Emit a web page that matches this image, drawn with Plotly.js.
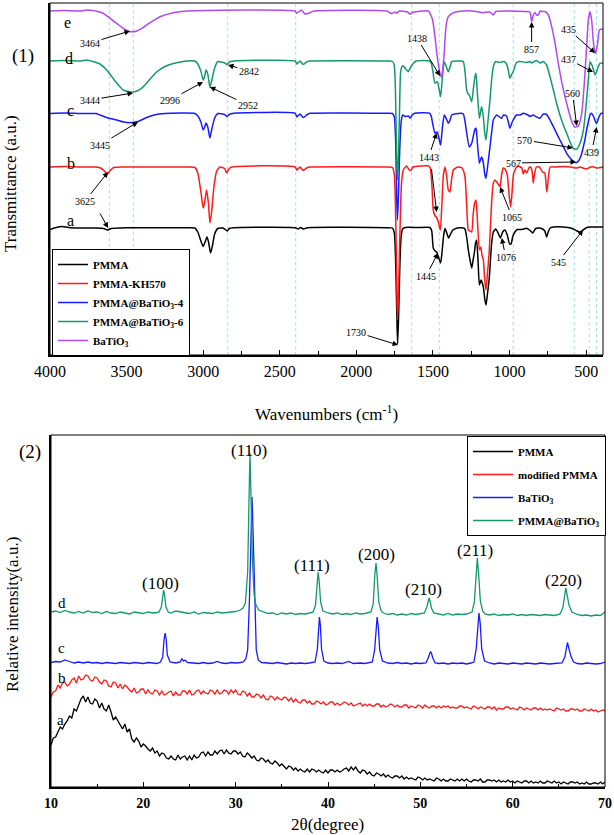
<!DOCTYPE html>
<html><head><meta charset="utf-8">
<script src="https://cdn.plot.ly/plotly-3.0.1.min.js"></script>
<style>body{margin:0;background:#fff}</style></head>
<body><div id="c" style="width:614px;height:835px"></div>
<script>
// ---------- FTIR spectra: [wavenumber, transmittance (a.u.)] ----------
const irA = [[4000,125.5],[3960,127.5],[3920,128.5],[3880,127.5],[3800,127],[3700,127],[3650,126.5],[3625,125],[3600,126.5],[3500,127.3],[3300,127.3],[3100,127.3],[3054,127],[3035,123],[3015,114],[3000,108.5],[2985,114],[2975,118],[2965,113],[2952,102],[2940,109],[2925,121],[2905,126.5],[2870,127],[2852,125],[2842,124],[2830,126.5],[2800,127.3],[2400,127.3],[2380,126],[2365,127.5],[2345,126],[2320,127.3],[1800,127.3],[1765,127],[1752,122],[1743,90],[1736,40],[1731,11],[1725,35],[1717,85],[1708,118],[1698,126],[1680,127.5],[1600,127.5],[1520,127.5],[1508,124],[1498,107],[1486,104],[1476,103],[1462,97],[1450,92],[1440,104],[1430,120],[1421,126.5],[1410,122],[1398,117],[1388,120],[1370,125],[1340,127],[1300,127],[1291,126],[1280,118],[1269,105],[1258,95],[1247,87],[1238,95],[1230,102],[1222,112],[1215,115],[1205,92],[1197,70],[1186,75],[1171,68],[1162,56],[1154,50],[1145,60],[1132,78],[1118,110],[1106,123],[1090,126],[1075,122],[1060,117],[1045,123],[1030,125],[1015,120],[1000,111],[990,111],[980,118],[965,123],[950,125.5],[920,125.5],[890,126.7],[870,125],[848,122],[830,126.5],[805,127],[785,126],[770,124],[758,118],[748,123],[735,127],[715,128],[650,128],[600,127],[560,124],[540,123],[520,125],[495,127.5],[475,128],[440,128],[390,128]];
const irB = [[4000,188],[3900,188.5],[3800,188],[3700,188],[3670,187],[3645,184],[3625,181],[3610,184],[3585,187.5],[3500,188],[3100,188],[3054,187.5],[3035,182],[3015,163],[3000,147],[2990,153],[2978,165],[2966,152],[2956,132],[2945,143],[2930,168],[2912,184],[2890,188],[2860,186.5],[2847,182],[2835,185.5],[2815,188],[2400,188],[2388,185],[2368,188],[2347,184.5],[2320,187.5],[2303,188],[1800,188],[1765,187.5],[1752,180],[1743,135],[1736,70],[1732,35],[1725,60],[1716,120],[1706,170],[1694,185],[1672,189],[1655,185],[1645,184.5],[1630,188],[1530,189],[1518,187],[1507,170],[1498,145],[1486,139],[1478,138],[1465,133],[1452,125],[1442,150],[1432,180],[1421,188],[1410,178],[1400,165],[1389,163],[1378,176],[1367,185],[1340,188],[1310,187],[1291,178],[1280,150],[1269,125],[1258,124],[1247,123],[1238,140],[1228,152],[1219,155],[1210,135],[1197,105],[1188,108],[1180,100],[1171,95],[1162,75],[1154,65],[1145,80],[1132,105],[1118,150],[1106,172],[1094,175],[1084,173],[1070,170],[1062,168],[1052,180],[1041,187],[1030,186],[1015,180],[1003,160],[993,148],[985,160],[975,180],[965,185],[945,189],[920,187],[911,181],[900,185],[888,182],[870,188],[858,187],[850,180],[845,172],[838,180],[825,188],[805,188],[785,183],[770,182],[760,168],[756,163],[748,175],[735,188],[700,188],[650,188.5],[600,188],[560,187],[540,188],[500,186],[470,188],[450,188],[430,187],[390,188]];
const irC = [[4000,241.5],[3900,242],[3800,241.5],[3700,241.5],[3674,240],[3620,237],[3565,235],[3520,233],[3478,232.3],[3440,233],[3410,234.5],[3369,237.5],[3320,240],[3250,241.5],[3054,241.5],[3035,239],[3015,233],[3000,225],[2990,228],[2982,232],[2970,228],[2956,217],[2945,225],[2925,237],[2905,241.5],[2860,240.5],[2845,238.3],[2830,240.5],[2800,241.7],[2400,241.7],[2388,238],[2368,241],[2347,237.5],[2320,240.5],[2303,241.7],[1800,241.7],[1765,241.5],[1752,238],[1743,210],[1737,160],[1732,135],[1726,155],[1717,205],[1707,234],[1697,240],[1680,238.5],[1660,239],[1650,236.7],[1635,240],[1620,241.7],[1520,241.7],[1510,238],[1500,230],[1487,222],[1472,223],[1460,216],[1450,210],[1438,228],[1426,240],[1412,236],[1400,231.7],[1388,235],[1378,240],[1320,241.7],[1302,241],[1290,233],[1280,222],[1263,208],[1247,211.7],[1235,220],[1225,226],[1219,226.7],[1210,212],[1197,191.7],[1188,196],[1182,198],[1171,192],[1162,181],[1154,176.7],[1142,190],[1128,208],[1115,225],[1106,235],[1084,240],[1065,238],[1052,236.7],[1040,240],[1020,239],[1008,233],[998,226.7],[985,232],[976,235],[955,240],[932,240],[910,241.7],[880,240],[867,238.5],[845,240],[823,238],[802,236.7],[780,241],[758,240.5],[747,238],[736,235],[714,228.3],[693,221.7],[671,215],[649,208.3],[627,201.7],[605,197],[585,194],[566,192.3],[550,194],[540,196.7],[528,202],[518,208.3],[507,216],[497,225],[486,233],[475,240],[465,241.7],[455,239.5],[447,236.7],[438,233],[431,231.7],[423,235],[416,238.3],[403,241.7],[390,241.7]];
const irD = [[4000,294],[3900,294.5],[3800,294],[3760,295],[3720,293.5],[3674,291],[3630,285],[3600,279],[3565,272],[3522,265],[3490,263.5],[3456,263],[3425,264.5],[3400,267],[3369,272],[3335,278],[3304,283],[3250,288.5],[3195,291.5],[3108,294],[3054,294],[3035,291],[3015,284],[3000,275],[2990,279],[2982,285],[2970,281],[2956,267.5],[2945,274],[2925,287],[2905,293.5],[2860,292],[2845,290.5],[2830,293],[2800,294],[2400,294],[2388,291],[2368,294],[2347,290.5],[2320,293.5],[2303,294],[1800,294],[1765,293.5],[1753,290],[1745,265],[1738,205],[1732,175],[1726,195],[1718,245],[1711,283],[1700,289],[1689,288.3],[1675,285.5],[1661,283.3],[1645,288],[1628,291.7],[1610,294],[1520,294],[1510,291],[1502,285],[1487,271.7],[1472,273.3],[1460,266],[1450,258.3],[1438,278],[1426,293.3],[1412,288],[1400,283.3],[1388,288],[1378,293.3],[1320,294],[1302,293.5],[1290,282],[1280,265],[1270,261],[1263,260],[1247,253.3],[1235,268],[1225,279],[1219,281.7],[1210,262],[1197,236.7],[1188,244],[1182,248.3],[1171,238],[1162,222],[1154,215],[1142,232],[1128,255],[1115,278],[1106,288.3],[1090,293.5],[1070,292.5],[1052,293],[1035,293.5],[1020,291],[1008,285],[998,276.7],[985,281],[976,283.3],[955,292.5],[932,293.5],[910,293],[888,292.5],[867,293.5],[856,292],[845,293],[823,294.5],[802,292],[780,293.5],[758,290],[736,278.3],[714,265],[693,251.7],[671,240],[649,230],[627,221.7],[606,213.3],[584,206.7],[562,205.7],[540,211.7],[518,225],[501,248.3],[486,275],[475,293.3],[460,289],[450,284],[442,280],[433,283],[425,286.7],[410,291.7],[390,292]];
const irE = [[4000,344],[3900,344.5],[3800,344],[3760,345],[3720,344.5],[3690,343.5],[3652,341.7],[3608,336.7],[3565,331.7],[3522,326.7],[3478,323.3],[3434,324],[3391,327.7],[3347,332.3],[3282,338.3],[3195,342.3],[3108,344],[2400,344],[2390,341.7],[2358,345],[2336,341],[2303,342.3],[2280,344],[1800,344],[1780,342],[1765,341.5],[1750,343],[1737,342],[1720,344],[1665,343],[1650,340.7],[1635,342.5],[1600,343.5],[1530,344],[1519,341.7],[1502,335],[1487,318.3],[1472,298.3],[1454,281.7],[1443,277.7],[1435,288],[1428,298.3],[1415,328.3],[1400,338.3],[1367,342.3],[1300,344],[1240,344],[1171,342.3],[1130,343],[1106,340],[1090,343.5],[1000,344],[900,343.5],[867,343],[856,333.3],[845,340],[834,342.5],[823,340],[812,340],[801,344],[790,343.5],[769,343.5],[747,340],[736,335],[725,328.3],[703,311.7],[682,291.7],[660,273.3],[638,258.3],[616,245],[594,233.3],[573,227.7],[551,229],[529,241.7],[512,271.7],[497,308.3],[486,335],[475,343.3],[464,335],[454,315],[445,305],[438,301.7],[425,311.7],[414,325],[403,325.7],[390,326]];
const irNames = ['PMMA','PMMA-KH570','PMMA@BaTiO<sub>3</sub>-4','PMMA@BaTiO<sub>3</sub>-6','BaTiO<sub>3</sub>'];
const irLetters = ['a','b','c','d','e'];
const guideWn = [3613,3456,2840,2396,1639,1459,976,578,480,432];
// peak labels: [wavenumber, transmittance, text]
const irPeaks = [[3478,324,'3464'],[3458,262,'3444'],[3426,233,'3445'],[3621,183,'3625'],[3001,273,'2996'],[2956,268,'2952'],[2838,290,'2842'],[1454,279,'1438'],[856,333,'857'],[442,302,'435'],[455,283,'437'],[562,229,'560'],[586,207,'570'],[566,193,'567'],[431,228,'439'],[1476,222,'1443'],[1062,168,'1065'],[1051,117,'1076'],[1467,102,'1445'],[1728,10,'1730'],[520,125,'545'],[3621,127,''],[1476,143,'']];

// ---------- XRD patterns (a, b sampled every 0.25 degree from 10) ----------
const xrdA = [42,49,50,56, 60,58,63,66, 71,69,78,76, 82,88,91,85, 90,84,83,88, 86,79,84,78, 76,82,75,67, 70,66,62,58, 63,55,58,48, 45,49,46,40, 43,41,38,36, 39,34,36,31, 34,33,29,28, 31,28,27,32, 28,30,31,27, 31,27,32,29, 30,34,35,31, 35,32,32,36, 33,36,37,33, 37,34,33,36, 36,33,35,31, 30,34,32,29, 31,27,26,29, 28,25,27,24, 23,26,24,21, 23,20,18,21, 20,17,19,16, 18,16,15,18, 15,18,17,15, 17,15,14,17, 14,17,17,15, 17,15,16,18, 19,16,20,17, 20,16,14,17, 16,13,15,12, 11,14,13,11, 13,10,12,10, 9,11,11,9, 11,8,10,8, 9,8,7,10, 9,7,9,7, 8,7,6,9, 8,6,8,6, 6,8,7,6, 8,6,8,6, 8,6,5,7, 7,6,8,5, 5,7,7,6, 7,5,7,5, 6,5,7,5, 6,4,6,5, 4,6,6,4, 6,4,5,4, 6,4,4,6, 5,4,6,4, 5,3,5,4, 3,5,5,4, 5,3,4,3, 5,3,3,4, 4,3,5,3, 5];
const xrdB = [90,95,96,102, 99,104,105,101, 103,107,109,104, 111,107,108,112, 111,107,106,110, 109,105,103,107, 106,101,100,105, 104,99,103,98, 102,100,97,95, 99,94,95,98, 98,93,97,94, 93,97,96,92, 96,92,93,95, 96,91,95,92, 92,96,96,93, 97,92,93,96, 97,93,96,94, 93,97,96,93, 97,93,94,97, 96,93,97,94, 97,93,92,96, 95,91,94,90, 90,93,92,89, 92,88,87,91, 90,87,90,88, 87,90,89,86, 89,85,88,85, 84,87,87,84, 86,83,83,86, 85,83,85,82, 83,85,85,82, 84,82,83,85, 84,82,84,81, 82,83,84,81, 83,81,83,81, 81,83,83,80, 82,80,81,83, 82,80,82,80, 80,82,82,79, 81,80,79,82, 81,79,82,80, 79,81,81,79, 81,79,81,80, 81,79,80,79, 79,81,81,79, 80,79,78,81, 80,78,80,79, 78,80,80,78, 80,77,79,78, 78,80,80,78, 79,78,77,80, 79,77,79,78, 77,79,79,77, 79,77,78,77, 78,77,76,79, 78,77,78,76, 76,78,78,77, 78,76,76,78, 77,76,78,76, 77,75,76,77, 76];
const xrdCx = [10,10.5,11,11.5,12,12.5,13,13.5,14,14.5,15,15.5,16,16.5,17,17.5,18,18.5,19,19.5,20,20.5,21,21.5, 21.85,22.1,22.25,22.36,22.47,22.6,22.9, 23.5,24.0,24.17,24.35,24.5,24.8, 25.5,26,26.5,27,27.5,28,28.5,29,29.5,30,30.5, 30.8,31.1,31.3,31.5,31.65,31.77,31.9,32.05,32.23,32.45,32.8, 33.5,34,34.5,35,35.5,36,36.5,37,37.5,38, 38.6,38.85,38.97,39.07,39.17,39.3,39.55, 40,40.5,41,41.5,42.25,42.75,43.5,44, 44.8,45.05,45.2,45.32,45.45,45.6,45.9, 46.5,47,47.5,48,48.5,49,49.5,50, 50.6,50.85,51.0,51.1,51.2,51.35,51.6, 52,52.5,53,53.5,54,54.5,55,55.5, 55.8,56.05,56.22,56.35,56.48,56.65,56.95, 57.5,58,58.5,59,59.5,60,60.5,61,61.5,62,62.5,63,63.5,64,64.5,65, 65.35,65.65,65.82,65.93,66.05,66.3,66.6, 67,67.5,68,68.5,69,69.5,70];
const xrdCy = [124.5,125.5,125,127,125.5,124,125,124,125,124,124.5,123.5,124.5,124,123.5,124.5,124,123.5,124.5,124,123.5,124.5,124,123.5, 125,130,148,154,148,132,125, 124,125,128.5,126,127,124.5, 124,123.5,124.5,123.5,124,125.5,124,123.5,124.5,124,124.5, 125,128,137,190,250,290,250,190,137,127,124.5, 124,123.5,124.5,124,123,124,123.5,124,123.5,124, 125,138,162,170,162,138,126, 124,123.5,124,123.5,125.5,123.5,124,123.5, 125,137,160,170,160,137,126, 124,123.5,124.5,123.5,124,123,124,123.5, 124,129,134,135.5,134,129,124, 123.5,124,123,124,123.5,124,123,124, 125,138,165,174,164,138,126, 124,123,124,123.5,123,124,123.5,123,124,123.5,123,124,123.5,123,123.5,124, 124,130,141,144.5,140,131,125, 123.5,123,124,123.5,123,123.5,125];
const xrdDx = [10,10.5,11,11.5,12,12.5,13,13.5,14,14.5,15,15.5,16,16.5,17,17.5,18,18.5,19,19.5,20,20.5,21,21.5, 21.7,21.95,22.1,22.2,22.3,22.45,22.7, 23,23.5,24,24.5,25,25.5,26,26.5,27,27.5,28,28.5,29,29.5,30, 30.5,30.8,31.05,31.3,31.45,31.55,31.65,31.8,32.0,32.2,32.5, 33,33.5,34,34.5,35,35.5,36,36.5,37,37.5,38, 38.4,38.65,38.8,38.93,39.05,39.2,39.45, 40,40.5,41,41.5,42,42.5,43,43.5,44, 44.65,44.9,45.07,45.2,45.33,45.5,45.75, 46,46.5,47,47.5,48,48.5,49,49.5,50, 50.45,50.7,50.85,50.95,51.05,51.2,51.45, 52,52.5,53,53.5,54,54.5,55, 55.6,55.85,56.03,56.17,56.3,56.5,56.75, 57,57.5,58,58.5,59,59.5,60,60.5,61,61.5,62,62.5,63,63.5,64,64.5,65, 65.2,65.45,65.62,65.75,65.88,66.1,66.4, 67,67.5,68,68.5,69,69.5,70];
const xrdDy = [175,176,174.5,176.5,175,174,175.5,174,176,174.5,175,173.5,175.5,174,173.5,175,174,173,175,174,173.5,175,174,174.5, 175,180,192,197,192,180,175, 174,176,175,174,173.5,175,173,174.5,174,173.5,175,174,174.5,175,175.5, 177,179,184,215,290,334,295,230,192,182,177, 175,173.5,174,172.5,174,173,174,172.5,173.5,173,174, 175,182,205,215,205,185,176, 174,173,174,172.5,173.5,172.5,174,173,173.5, 175,183,212,224,210,185,176, 174,172.5,173.5,172,173,172,173.5,172.5,173, 174,180,187,189,186,179,174, 173,172,173.5,172,173,172.5,173, 175,185,215,229,215,186,176, 173,172,173,171.5,172.5,172,173,171.5,172.5,171.5,172.5,172,171.5,172.5,172,171.5,172.5, 174,180,192,199,193,182,175, 172.5,171.5,172,171,172,171.5,175];
const xrdNames = ['PMMA','modified PMMA','BaTiO<sub>3</sub>','PMMA@BaTiO<sub>3</sub>'];
const hkl = ['(100)','(110)','(111)','(200)','(210)','(211)','(220)'];

// ---------- layout helpers ----------
const W=614,H=835,ML=50,MR=9,MT=3,MB=48;
const PW=W-ML-MR, PH=H-MT-MB;
const xp = px => (px-ML)/PW, yp = py => (H-MB-py)/PH;
const SERIF='Liberation Serif';
const irColors=['#000000','#ff1a1a','#1a1aff','#14996e','#b048f2'];
const xrdColors=['#000000','#ff1a1a','#1a1aff','#14996e'];

const traces=[];
[irA,irB,irC,irD,irE].forEach((s,i)=>{
  traces.push({x:s.map(p=>p[0]),y:s.map(p=>p[1]),type:'scatter',mode:'lines',name:irNames[i],
    xaxis:'x',yaxis:'y',legend:'legend',line:{color:irColors[i],width:1.5,shape:'spline',smoothing:0.5}});
});
traces.push({y:xrdA,x0:10,dx:0.25,type:'scatter',mode:'lines',name:xrdNames[0],xaxis:'x2',yaxis:'y2',legend:'legend2',legendgroup:'g1',line:{color:xrdColors[0],width:1.3}});
traces.push({y:xrdB,x0:10,dx:0.25,type:'scatter',mode:'lines',name:xrdNames[1],xaxis:'x2',yaxis:'y2',legend:'legend2',legendgroup:'g2',line:{color:xrdColors[1],width:1.3}});
traces.push({x:xrdCx,y:xrdCy,type:'scatter',mode:'lines',name:xrdNames[2],xaxis:'x2',yaxis:'y2',legend:'legend2',legendgroup:'g3',line:{color:xrdColors[2],width:1.3}});
traces.push({x:xrdDx,y:xrdDy,type:'scatter',mode:'lines',name:xrdNames[3],xaxis:'x2',yaxis:'y2',legend:'legend2',legendgroup:'g4',line:{color:xrdColors[3],width:1.3}});

// label offsets in pixels (text position relative to arrow tip)
const peakOffsets=[[-40,12],[-43,7],[-38,23],[-23,29],[-33,18],[38,18],[21,6],[-23,-38],[0,27],[-27,-24],[-25,-13],[-4,-33],[-48,-8],[-63,1],[-5,25],[-8,24],[12,30],[4,19],[-12,23],[-42,-13],[-25,32],[-11,-20],[-6,-50]];
const ann=[];
irPeaks.forEach((p,i)=>{
  ann.push({xref:'x',yref:'y',x:p[0],y:p[1],text:p[2]===''?' ':p[2],showarrow:true,ax:peakOffsets[i][0],ay:peakOffsets[i][1],
    arrowhead:2,arrowsize:1.1,arrowwidth:1,arrowcolor:'#000',font:{family:SERIF,size:10,color:'#000'}});
});
const txt=(px,py,t,size,extra)=>Object.assign({xref:'paper',yref:'paper',x:xp(px),y:yp(py),text:t,showarrow:false,
  xanchor:'center',yanchor:'middle',font:{family:SERIF,size:size,color:'#000'}},extra||{});
const irLetterPos=[[70,220],[71,163],[70,110],[69,58],[67,23]];
irLetters.forEach((l,i)=>ann.push(txt(irLetterPos[i][0],irLetterPos[i][1],l,16)));
const xrdLetterPos=[[60,720],[61.7,678],[61.7,648],[61.7,603]];
['a','b','c','d'].forEach((l,i)=>ann.push(txt(xrdLetterPos[i][0],xrdLetterPos[i][1],l,15)));
const hklPos=[[160,583],[249,450],[312,565],[376,554],[423,589],[475,550],[563,580]];
hkl.forEach((h,i)=>ann.push(txt(hklPos[i][0],hklPos[i][1],h,17)));
ann.push(txt(23,56,'(1)',19));
ann.push(txt(30,452,'(2)',19));
ann.push(txt(10,184,'Transmittance (a.u.)',17,{textangle:-90}));
ann.push(txt(12,615,'Relative intensity(a.u.)',17,{textangle:-90}));
ann.push(txt(326,413,'Wavenumbers (cm<sup>-1</sup>)',17));
ann.push(txt(327,824,'2θ(degree)',17));

const shapes=[];
guideWn.forEach(w=>shapes.push({type:'line',xref:'x',yref:'y domain',x0:w,x1:w,y0:0,y1:1,layer:'below',
  line:{color:'#9fe0e6',width:1,dash:'dot'}}));
shapes.push({type:'rect',xref:'x domain',yref:'y domain',x0:0,x1:1,y0:0,y1:1,line:{color:'#000',width:1}});
shapes.push({type:'rect',xref:'x2 domain',yref:'y2 domain',x0:0,x1:1,y0:0,y1:1,line:{color:'#000',width:1}});

const axBase={showgrid:false,zeroline:false,showline:true,linecolor:'#000',linewidth:2,mirror:false};
const layout={
  width:W,height:H,margin:{l:ML,r:MR,t:MT,b:MB},paper_bgcolor:'#fff',plot_bgcolor:'#fff',showlegend:true,
  xaxis:Object.assign({},axBase,{domain:[0,553/PW],anchor:'y',range:[4000,390],tick0:0,dtick:500,ticks:'inside',ticklen:5,tickcolor:'#000',
    ticklabelstandoff:1,tickfont:{family:SERIF,size:16,color:'#000'},minor:{dtick:250,tick0:0,ticks:'inside',ticklen:4,tickcolor:'#000'}}),
  yaxis:Object.assign({},axBase,{domain:[yp(355),1],anchor:'x',range:[0,352],showticklabels:false,ticks:''}),
  xaxis2:Object.assign({},axBase,{domain:[xp(51),1],anchor:'y2',range:[10,70],tick0:10,dtick:10,ticks:'inside',ticklen:5,tickcolor:'#000',
    ticklabelstandoff:2,tickfont:{family:SERIF,size:14,color:'#000',weight:'bold'},minor:{dtick:5,tick0:10,ticks:'inside',ticklen:3,tickcolor:'#000'}}),
  yaxis2:Object.assign({},axBase,{domain:[0,yp(435)],anchor:'x2',range:[0,352],showticklabels:false,ticks:''}),
  legend:{x:xp(52),y:yp(249),xanchor:'left',yanchor:'top',bgcolor:'#fff',bordercolor:'#000',borderwidth:1,itemwidth:30,
    font:{family:SERIF,size:11,color:'#000',weight:'bold'}},
  legend2:{x:xp(467),y:yp(436),xanchor:'left',yanchor:'top',bgcolor:'#fff',bordercolor:'#000',borderwidth:1,itemwidth:40,tracegroupgap:4,
    font:{family:SERIF,size:11,color:'#000',weight:'bold'}},
  annotations:ann,shapes:shapes
};
Plotly.newPlot('c',traces,layout,{displayModeBar:false,staticPlot:true});
</script></body></html>
